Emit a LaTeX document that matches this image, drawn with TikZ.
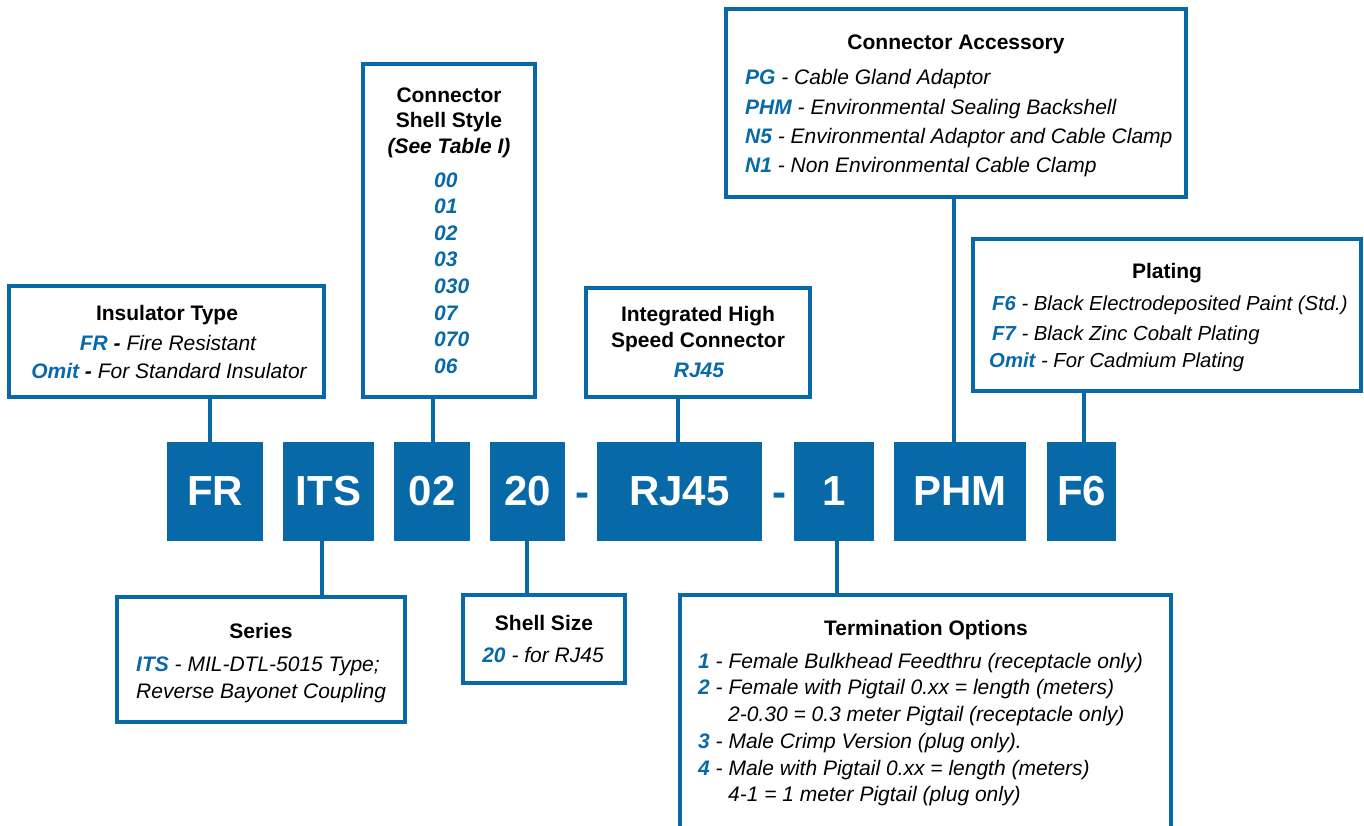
\documentclass[tikz,border=0pt]{standalone}
\usepackage{fontspec}
\setmainfont{Liberation Sans}
\definecolor{pblue}{HTML}{0869A9}
\newcommand{\pcode}[1]{{\color{pblue}\bfseries\itshape #1}}

\begin{document}
\begin{tikzpicture}[x=1pt,y=-1pt,
    infobox/.style={draw=pblue,line width=3.5pt,inner sep=0pt},
    codebox/.style={fill=pblue,text=white,font=\fontsize{42}{48}\selectfont\bfseries,minimum height=99pt,inner sep=0pt},
    sepmark/.style={text=pblue,font=\fontsize{42}{48}\selectfont\bfseries,anchor=base,inner sep=0pt},
    ttl/.style={font=\fontsize{21}{25}\selectfont\bfseries,anchor=base,inner sep=0pt},
    txt/.style={font=\fontsize{21}{25}\selectfont\itshape,anchor=base west,inner sep=0pt},
    ctxt/.style={txt,anchor=base},
    stem/.style={draw=pblue,line width=4pt}]
  \useasboundingbox (0,0) rectangle (1364,825);
  \clip (0,0) rectangle (1364,825);

  % part number
  \node[codebox,minimum width=96pt] (cFR) at (215,491.5) {FR};
  \node[codebox,minimum width=91pt] (cITS) at (328.5,491.5) {ITS};
  \node[codebox,minimum width=76pt] (c02) at (432,491.5) {02};
  \node[codebox,minimum width=75pt] (c20) at (527.5,491.5) {20};
  \node[sepmark] (dashA) at (582.5,506.5) {-};
  \node[codebox,minimum width=165pt] (cRJ) at (679.5,491.5) {RJ45};
  \node[sepmark] (dashB) at (779,506.5) {-};
  \node[codebox,minimum width=80pt] (c1) at (834,491.5) {1};
  \node[codebox,minimum width=132pt] (cPHM) at (960,491.5) {PHM};
  \node[codebox,minimum width=69pt] (cF6) at (1081.5,491.5) {F6};

  % boxes above
  \node[infobox,minimum width=315pt,minimum height=111pt] (insul) at (166.5,341.5) {};
  \node[ttl] (insulT) at (167,320.5) {Insulator Type};
  \node[ctxt] (insulA) at (168,350) {\pcode{FR} \textbf{-} Fire Resistant};
  \node[ctxt] (insulB) at (169,378.5) {\pcode{Omit} \textbf{-} For Standard Insulator};

  \node[infobox,minimum width=172pt,minimum height=333pt] (shell) at (449,230.5) {};
  \node[ttl] (shellT) at (449,102) {Connector};
  \node[ttl] (shellU) at (449,127.5) {Shell Style};
  \node[ttl,font=\fontsize{21}{25}\selectfont\bfseries\itshape] (shellV) at (449,153.5) {(See Table I)};
  \foreach \n [count=\i from 0] in {00,01,02,03,030,07,070,06}
    \node[txt] (shell\i) at (434,187+26.6*\i) {\pcode{\n}};

  \node[infobox,minimum width=224pt,minimum height=109pt] (fast) at (698,342.5) {};
  \node[ttl] (fastT) at (698,321.5) {Integrated High};
  \node[ttl] (fastU) at (698,347.5) {Speed Connector};
  \node[ctxt] (fastA) at (699,377.5) {\pcode{RJ45}};

  \node[infobox,minimum width=460pt,minimum height=188pt] (access) at (956,103) {};
  \node[ttl] (accessT) at (956,49.5) {Connector Accessory};
  \node[txt] (accessA) at (745,84.5) {\pcode{PG} - Cable Gland Adaptor};
  \node[txt] (accessB) at (745,114) {\pcode{PHM} - Environmental Sealing Backshell};
  \node[txt] (accessC) at (745,143.5) {\pcode{N5} - Environmental Adaptor and Cable Clamp};
  \node[txt] (accessD) at (745,172) {\pcode{N1} - Non Environmental Cable Clamp};

  \node[infobox,minimum width=388pt,minimum height=152pt] (plate) at (1167,315) {};
  \node[ttl] (plateT) at (1167,278.5) {Plating};
  \begin{scope}[txt/.append style={font=\fontsize{20.3}{25}\selectfont\itshape}]
    \node[txt] (plateA) at (992,310.5) {\pcode{F6} - Black Electrodeposited Paint (Std.)};
    \node[txt] (plateB) at (992,340.5) {\pcode{F7} - Black Zinc Cobalt Plating};
    \node[txt] (plateC) at (989,367) {\pcode{Omit} - For Cadmium Plating};
  \end{scope}

  % boxes below
  \node[infobox,minimum width=288pt,minimum height=125pt] (series) at (261,659.5) {};
  \node[ttl] (seriesT) at (261,638.5) {Series};
  \node[txt] (seriesA) at (136,671.5) {\pcode{ITS} - MIL-DTL-5015 Type;};
  \node[txt] (seriesB) at (136,698.5) {Reverse Bayonet Coupling};

  \node[infobox,minimum width=162pt,minimum height=88pt] (ssize) at (544,639) {};
  \node[ttl] (ssizeT) at (544,630.5) {Shell Size};
  \node[ctxt] (ssizeA) at (543,662.5) {\pcode{20} - for RJ45};

  \node[infobox,minimum width=491pt,minimum height=305pt] (term) at (925.5,747.5) {};
  \node[ttl] (termT) at (926,635) {Termination Options};
  \node[txt] (termA) at (698,668.5) {\pcode{1} - Female Bulkhead Feedthru (receptacle only)};
  \node[txt] (termB) at (698,694.5) {\pcode{2} - Female with Pigtail 0.xx = length (meters)};
  \node[txt] (termC) at (728,721.5) {2-0.30 = 0.3 meter Pigtail (receptacle only)};
  \node[txt] (termD) at (698,748.5) {\pcode{3} - Male Crimp Version (plug only).};
  \node[txt] (termE) at (698,775) {\pcode{4} - Male with Pigtail 0.xx = length (meters)};
  \node[txt] (termF) at (728,801.5) {4-1 = 1 meter Pigtail (plug only)};

  % stems
  \draw[stem] (210,0 |- insul.south) -- (210,0 |- cFR.north);
  \draw[stem] (433,0 |- shell.south) -- (433,0 |- c02.north);
  \draw[stem] (678,0 |- fast.south) -- (678,0 |- cRJ.north);
  \draw[stem] (954,0 |- access.south) -- (954,0 |- cPHM.north);
  \draw[stem] (1084,0 |- plate.south) -- (1084,0 |- cF6.north);
  \draw[stem] (322,0 |- cITS.south) -- (322,0 |- series.north);
  \draw[stem] (527,0 |- c20.south) -- (527,0 |- ssize.north);
  \draw[stem] (837,0 |- c1.south) -- (837,0 |- term.north);
\end{tikzpicture}
\end{document}
